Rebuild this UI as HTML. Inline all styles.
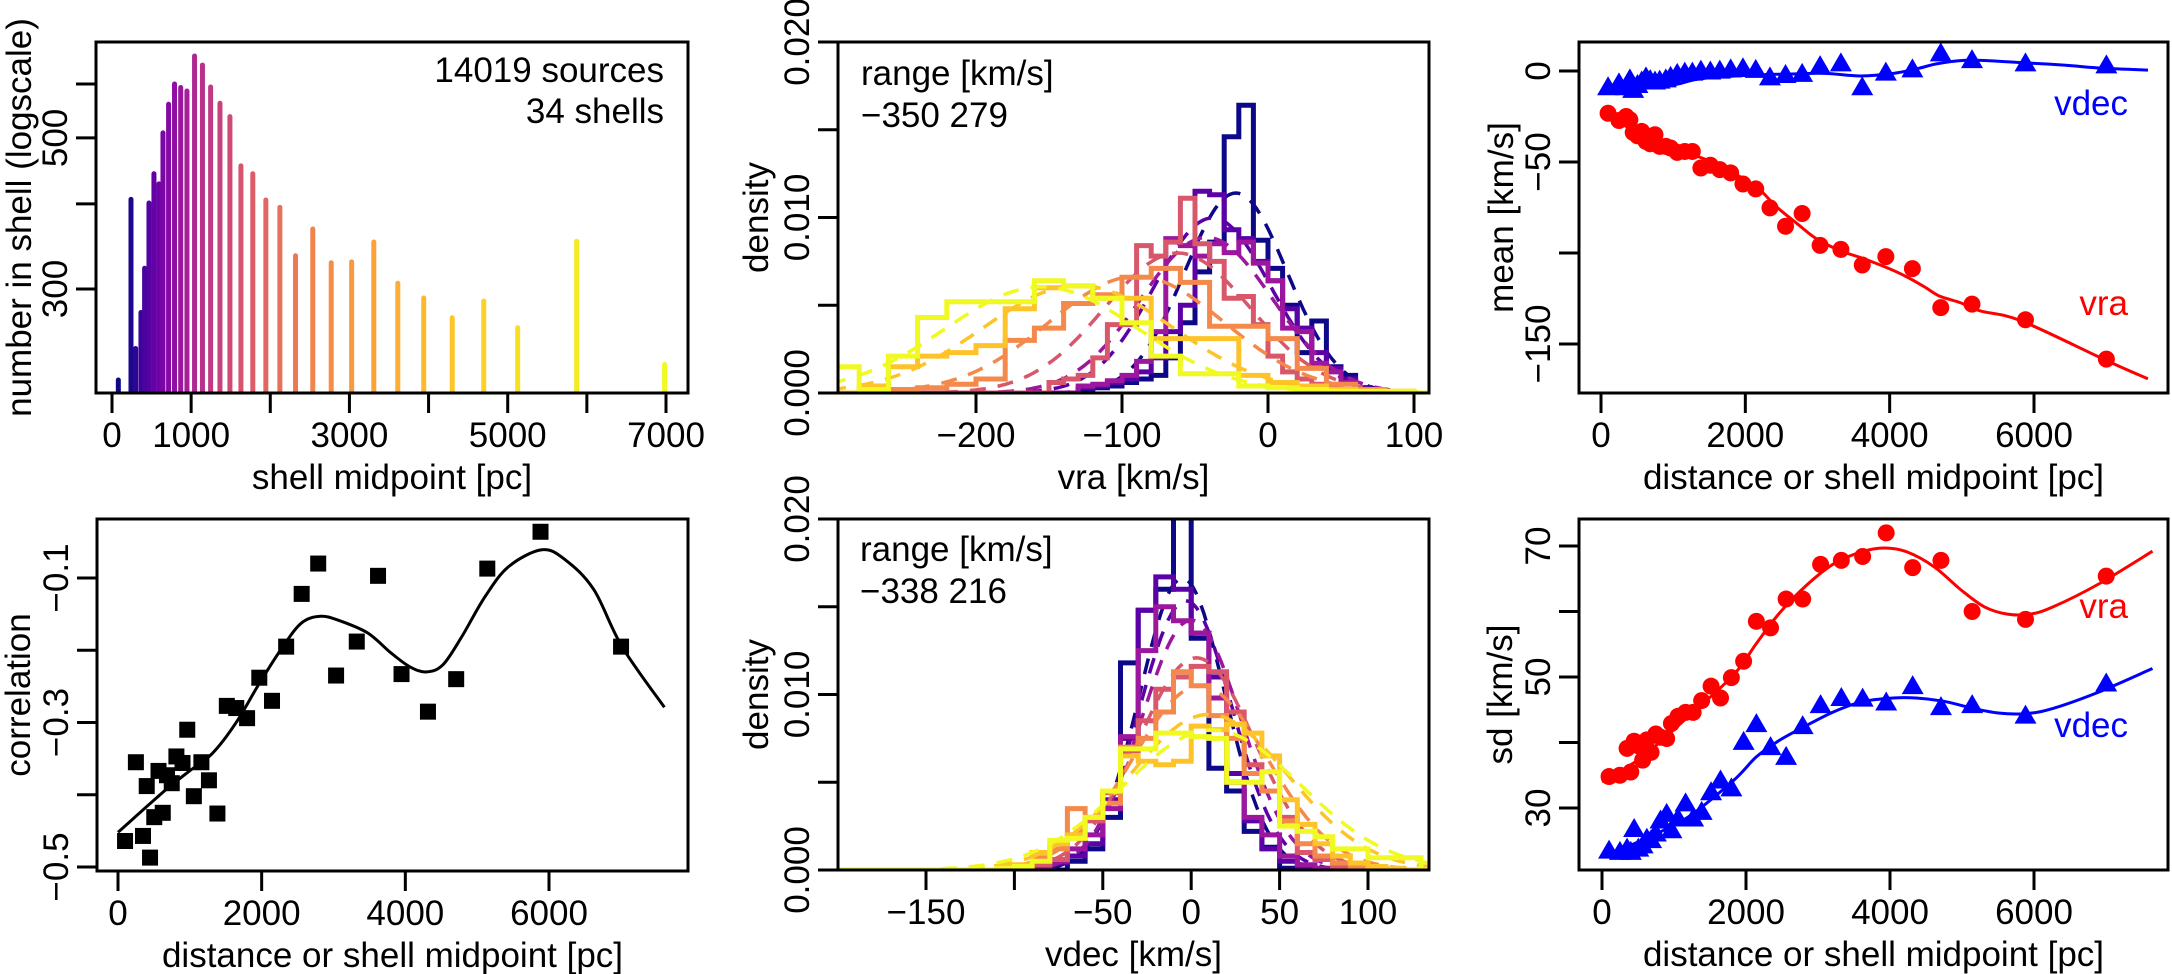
<!DOCTYPE html>
<html><head><meta charset="utf-8"><title>Shell velocity statistics</title>
<style>
html,body{margin:0;padding:0;background:#fff;}
svg{display:block;font-family:"Liberation Sans",Arial,sans-serif;}
</style></head>
<body>
<svg id="chart" xmlns="http://www.w3.org/2000/svg" width="2172" height="974" viewBox="0 0 2172 974">
<rect x="0" y="0" width="2172" height="974" fill="#fff"/>
</svg>
<script>
// ---------- data ----------
const histShellMid = [80,240,299,366,412,467,530,593,644,715,790,868,947,1043,1143,1246,1364,1490,1629,1779,1944,2121,2319,2537,2770,3028,3308,3611,3939,4299,4697,5126,5871,6982];
const histCounts = [222,409,247,279,324,404,446,431,512,564,604,597,590,664,644,598,566,541,458,446,408,398,338,370,330,331,354,308,293,274,290,265,355,234];

const shellMid = [98,249,348,400,446,505,564,623,682,748,813,898,964,1056,1161,1266,1384,1515,1646,1797,1967,2144,2341,2557,2787,3036,3324,3620,3947,4315,4708,5141,5882,7003];
const meanVra = [-23.2,-27.2,-25.0,-26.8,-33.8,-35.6,-33.2,-38.7,-40.0,-35.0,-41.4,-41.4,-42.3,-44.7,-44.2,-44.2,-53.3,-51.8,-54.2,-56.0,-62.1,-64.8,-75.2,-85.3,-78.3,-95.8,-98.0,-106.6,-102.0,-108.6,-130.0,-128.1,-136.7,-158.3];
const meanVdec = [-8.9,-6.8,-8.9,-4.6,-10.4,-7.7,-5.8,-3.5,-5.0,-5.8,-5.3,-4.6,-3.2,-1.6,-0.9,-0.9,0.2,-0.3,0.2,0.9,1.5,0.6,-3.5,-2.2,-1.6,2.7,4.2,-8.9,-0.9,0.9,9.7,6.0,4.2,3.1];
const fitMeanVraX = [0,431,1000,1567,2136,2419,2703,2986,3327,3668,4120,4461,4688,4972,5256,5824,6961,7578];
const fitMeanVraY = [-21.4,-32.3,-42.3,-50.5,-63.3,-74.2,-83.4,-92.2,-98.9,-103.5,-110.8,-118.1,-123.6,-127.2,-131.8,-137.3,-158.3,-169.2];
const fitMeanVdecX = [0,435,1001,1285,1569,2136,2704,3100,3554,3838,4120,4404,4688,5114,5824,6390,6957,7580];
const fitMeanVdecY = [-12.2,-10.0,-7.7,-4.9,-3.5,-2.2,-1.6,-1.3,-2.7,-2.2,-0.9,1.5,4.2,6.0,4.6,3.3,1.5,0.5];

const corr = [-0.464,-0.355,-0.457,-0.388,-0.487,-0.431,-0.367,-0.425,-0.373,-0.384,-0.347,-0.356,-0.310,-0.402,-0.355,-0.380,-0.426,-0.277,-0.280,-0.294,-0.238,-0.270,-0.195,-0.122,-0.080,-0.235,-0.188,-0.097,-0.233,-0.285,-0.240,-0.087,-0.036,-0.195];
const fitCorrX = [0,656,984,1311,1639,1967,2295,2557,2820,3082,3475,3803,4065,4295,4524,4787,5114,5442,5901,6229,6623,7016,7606];
const fitCorrY = [-0.452,-0.394,-0.368,-0.343,-0.301,-0.246,-0.195,-0.162,-0.153,-0.159,-0.176,-0.204,-0.223,-0.230,-0.220,-0.181,-0.125,-0.084,-0.061,-0.075,-0.116,-0.195,-0.279];

const sdVra = [34.8,35.0,39.1,35.5,40.2,39.5,37.3,40.4,38.5,41.3,40.8,40.6,42.9,44.0,44.6,44.6,46.4,48.6,46.8,49.9,52.4,58.5,57.5,61.9,61.9,67.2,67.8,68.4,72.0,66.7,67.8,60.0,58.8,65.4];
const sdVdec = [23.5,23.3,23.8,23.3,26.8,23.8,24.3,25.3,25.1,26.1,28.1,29.1,26.6,28.4,30.7,28.4,29.4,32.4,34.2,33.0,40.1,42.8,39.3,37.8,42.5,45.7,46.8,46.7,46.1,48.6,45.4,45.7,44.1,49.0];
const fitSdVraX = [0,558,1192,1826,2143,2460,2840,3221,3601,3918,4235,4616,4996,5313,5630,5947,6264,6898,7646];
const fitSdVraY = [34.0,37.8,43.9,50.3,55.1,59.7,64.0,67.3,69.1,69.7,69.1,66.8,63.2,60.7,59.6,59.6,60.7,64.2,69.2];
const fitSdVdecX = [0,558,1192,1826,2143,2460,2840,3221,3601,4045,4362,4743,5123,5503,5884,6264,6898,7646];
const fitSdVdecY = [22.5,25.1,28.6,34.2,37.8,40.3,42.6,44.7,46.2,46.8,46.8,46.3,45.3,44.5,44.4,45.2,47.7,51.3];

// vra histograms (selected shells)
const vraHistStart = [-130,-130,-130,-150,-260,-280,-300];
const vraHistWidth = [10,10,10,10,20,20,20];
const vraHistNavy   = [0.0002,0.0003,0.0004,0.0006,0.0008,0.0010,0.0020,0.0040,0.0069,0.0086,0.0146,0.0164,0.0087,0.0071,0.0050,0.0023,0.0041,0.0015,0.0010,0.0003];
const vraHistIndigo = [0.0003,0.0004,0.0006,0.0008,0.0012,0.0020,0.0035,0.0050,0.0115,0.0113,0.0093,0.0088,0.0075,0.0064,0.0048,0.0037,0.0023,0.0014,0.0008,0.0003];
const vraHistPurple = [0.0004,0.0005,0.0007,0.0010,0.0018,0.0035,0.0088,0.0084,0.0078,0.0085,0.0080,0.0086,0.0074,0.0064,0.0037,0.0035,0.0017,0.0012,0.0006,0.0002];
const vraHistPink   = [0.0006,0.0008,0.0010,0.0020,0.0039,0.0039,0.0084,0.0078,0.0086,0.0111,0.0085,0.0075,0.0054,0.0055,0.0039,0.0021,0.0012,0.0008,0.0005,0.0003,0.0002];
const vraHistOrange = [0.0002,0.0003,0.0005,0.0008,0.0030,0.0037,0.0051,0.0056,0.0066,0.0071,0.0063,0.0038,0.0038,0.0031,0.0014,0.0005,0.0002,0.0001];
const vraHistGold   = [0.0004,0.0015,0.0021,0.0023,0.0027,0.0048,0.0060,0.0061,0.0054,0.0054,0.0031,0.0031,0.0031,0.0010,0.0006,0.0004,0.0002,0.0001];
const vraHistYellow = [0.0015,0.0002,0.0021,0.0043,0.0052,0.0052,0.0052,0.0064,0.0061,0.0054,0.0040,0.0021,0.0011,0.0011,0.0004,0.0003,0.0002,0.0001,0.0001,0.0001];
const vraFitMean = [-22,-38,-42,-62,-90,-130,-155];
const vraFitSd = [35,40,45,50,60,65,66];

// vdec histograms (10 km/s bins from -110)
const vdecHistStart = -110;
const vdecHistWidth = 10;
const vdecHistNavy   = [0,0,0,0,0.0005,0.0012,0.0030,0.0118,0.0148,0.0160,0.0220,0.0132,0.0058,0.0045,0.0022,0.0013,0.0001,0,0,0,0,0,0,0];
const vdecHistIndigo = [0,0,0.0002,0.0004,0.0008,0.0015,0.0040,0.0075,0.0148,0.0167,0.0160,0.0135,0.0110,0.0055,0.0028,0.0012,0.0005,0.0002,0,0,0,0,0,0];
const vdecHistPurple = [0,0,0.0002,0.0005,0.0012,0.0020,0.0035,0.0076,0.0125,0.0150,0.0142,0.0135,0.0098,0.0050,0.0030,0.0020,0.0008,0.0003,0.0001,0,0,0,0,0];
const vdecHistPink   = [0,0,0.0003,0.0006,0.0020,0.0028,0.0044,0.0068,0.0085,0.0103,0.0110,0.0116,0.0113,0.0090,0.0060,0.0045,0.0030,0.0010,0.0006,0.0002,0.0001,0,0,0];
const vdecHistOrange = [0.0001,0.0002,0.0007,0.0012,0.0035,0.0030,0.0038,0.0070,0.0075,0.0090,0.0113,0.0105,0.0088,0.0075,0.0055,0.0045,0.0028,0.0015,0.0008,0.0004,0.0002,0.0001,0,0];
const vdecHistGold   = [0.0002,0.0003,0.0010,0.0015,0.0020,0.0030,0.0045,0.0065,0.0062,0.0060,0.0062,0.0082,0.0080,0.0083,0.0078,0.0065,0.0040,0.0026,0.0015,0.0008,0.0004,0.0002,0.0001,0];
const vdecHistYellow = [0.0001,0.0002,0.0005,0.0017,0.0018,0.0030,0.0045,0.0069,0.0069,0.0078,0.0078,0.0076,0.0075,0.0050,0.0050,0.0056,0.0025,0.0022,0.0019,0.0012,0.0012,0.0007,0.0007,0.0007];
const vdecFitMean = [-5,-3,0,3,5,10,12];
const vdecFitSd = [24,26,28,33,38,45,50];

const seriesColors = ['#0d0887','#5c01a6','#9c179e','#d8576b','#f3894b','#fdc328','#f0f921'];
const seriesNames = ['navy','indigo','purple','pink','orange','gold','yellow'];

// ---------- helpers ----------
const NS = 'http://www.w3.org/2000/svg';
const svg = document.getElementById('chart');
function el(tag, attrs, parent){
  const e = document.createElementNS(NS, tag);
  for (const k in attrs) e.setAttribute(k, attrs[k]);
  (parent || svg).appendChild(e);
  return e;
}
function lin(d0,p0,d1,p1){ return v => p0 + (v-d0)*(p1-p0)/(d1-d0); }
const FS = 35;
function smoothPath(xs, ys){
  let d = 'M' + xs[0].toFixed(1) + ',' + ys[0].toFixed(1);
  for (let i=0;i<xs.length-1;i++){
    const x0 = xs[Math.max(i-1,0)], y0 = ys[Math.max(i-1,0)];
    const x1 = xs[i], y1 = ys[i], x2 = xs[i+1], y2 = ys[i+1];
    const x3 = xs[Math.min(i+2,xs.length-1)], y3 = ys[Math.min(i+2,xs.length-1)];
    const c1x = x1 + (x2-x0)/6, c1y = y1 + (y2-y0)/6;
    const c2x = x2 - (x3-x1)/6, c2y = y2 - (y3-y1)/6;
    d += ' C' + c1x.toFixed(1)+','+c1y.toFixed(1)+' '+c2x.toFixed(1)+','+c2y.toFixed(1)+' '+x2.toFixed(1)+','+y2.toFixed(1);
  }
  return d;
}
const plasmaStops = ['#0d0887','#41049d','#6a00a8','#8f0da4','#b12a90','#cc4778','#e16462','#f2844b','#fca636','#fcce25','#f0f921'];
function plasma(t){
  const n = plasmaStops.length-1, f = Math.min(Math.max(t,0),1)*n, i = Math.min(Math.floor(f), n-1), r = f-i;
  const a = plasmaStops[i], b = plasmaStops[i+1];
  const c = [1,3,5].map(k => Math.round(parseInt(a.substr(k,2),16)*(1-r) + parseInt(b.substr(k,2),16)*r));
  return 'rgb(' + c.join(',') + ')';
}

function panel(id, L, R, T, B){
  const g = el('g', {});
  
  
  const cp = el('clipPath', {id: 'clip-' + id}, g);
  el('rect', {x:L, y:T, width:R-L, height:B-T}, cp);
  const plot = el('g', {'clip-path':'url(#clip-' + id + ')'}, g);
  
  
  return {g, plot, L, R, T, B};
}
function box(p, id){
  const r = el('rect', {x:p.L, y:p.T, width:p.R-p.L, height:p.B-p.T, fill:'none', stroke:'#000', 'stroke-width':3}, p.g);
  
  
}
function xAxis(p, id, sx, ticks, labels, title){
  const ax = el('g', {}, p.g);
  
  
  ticks.forEach((t,i) => {
    const x = sx(t);
    const tk = el('line', {x1:x, x2:x, y1:p.B, y2:p.B+20, stroke:'#000', 'stroke-width':3}, ax);
    
    
    if (labels[i] !== '') {
      const tx = el('text', {x:x, y:p.B+54, 'text-anchor':'middle', 'font-size':FS}, ax);
      tx.textContent = labels[i];
      
      
    }
  });
  const tt = el('text', {x:(p.L+p.R)/2, y:p.B+96, 'text-anchor':'middle', 'font-size':FS}, ax);
  tt.textContent = title;
  
  
}
function yAxis(p, id, sy, ticks, labels, title, titleOff){
  const ax = el('g', {}, p.g);
  
  
  ticks.forEach((t,i) => {
    const y = sy(t);
    const tk = el('line', {x1:p.L-20, x2:p.L, y1:y, y2:y, stroke:'#000', 'stroke-width':3}, ax);
    
    
    if (labels[i] !== '') {
      const lx = p.L - 29;
      const tx = el('text', {x:lx, y:y, 'text-anchor':'middle', 'font-size':FS, transform:'rotate(-90 ' + lx + ' ' + y + ')'}, ax);
      tx.textContent = labels[i];
      
      
    }
  });
  const tx0 = p.L - titleOff, ty0 = (p.T+p.B)/2;
  const tt = el('text', {x:tx0, y:ty0, 'text-anchor':'middle', 'font-size':FS, transform:'rotate(-90 ' + tx0 + ' ' + ty0 + ')'}, ax);
  tt.textContent = title;
  
  
}
function label(p, name, x, y, txt, anchor, color){
  const t = el('text', {x:x, y:y, 'text-anchor':anchor, 'font-size':FS, fill:color||'#000'}, p.g);
  t.textContent = txt;
  
  
}
function curve(p, name, xs, ys, sx, sy, color, dash){
  const a = {d:smoothPath(xs.map(sx), ys.map(sy)), fill:'none', stroke:color, 'stroke-width':3};
  if (dash) a['stroke-dasharray'] = dash;
  const c = el('path', a, p.plot);
  
  
}
function circles(p, name, xs, ys, sx, sy, color){
  xs.forEach((v,i) => {
    const c = el('ellipse', {cx:sx(v), cy:sy(ys[i]), rx:8.5, ry:8.5, fill:color}, p.plot);
    
    
  });
}
function triangles(p, name, xs, ys, sx, sy, color){
  xs.forEach((v,i) => {
    const x = sx(v), y = sy(ys[i]);
    const t = el('polygon', {points:(x-11)+','+(y+8)+' '+(x+11)+','+(y+8)+' '+x+','+(y-11), fill:color}, p.plot);
    
    
  });
}
function stepHist(p, name, start, width, vals, sx, sy, xmin, xmax, color){
  let d = 'M' + sx(xmin) + ',' + sy(0) + ' H' + sx(start);
  vals.forEach((v,i) => { d += ' V' + sy(v).toFixed(1) + ' H' + sx(start + width*(i+1)).toFixed(1); });
  d += ' V' + sy(0) + ' H' + sx(xmax);
  const h = el('path', {d:d, fill:'none', stroke:color, 'stroke-width':5, 'stroke-linejoin':'miter'}, p.plot);
  
  
}
function normalCurve(p, name, mu, sd, sx, sy, xmin, xmax, color){
  const xs = [], ys = [];
  for (let v = xmin; v <= xmax; v += 2){ xs.push(sx(v)); ys.push(sy(Math.exp(-0.5*((v-mu)/sd)**2)/(sd*Math.sqrt(2*Math.PI)))); }
  let d = 'M' + xs[0].toFixed(1) + ',' + ys[0].toFixed(1);
  for (let i=1;i<xs.length;i++) d += ' L' + xs[i].toFixed(1) + ',' + ys[i].toFixed(1);
  const c = el('path', {d:d, fill:'none', stroke:color, 'stroke-width':3.5, 'stroke-dasharray':'16 12'}, p.plot);
  
  
}

// ---------- panel 1: counts per shell ----------
(function(){
  const p = panel('shell-count', 96, 688, 42, 393);
  const sx = lin(0,112,7000,666);
  const sy = v => 289 + (Math.log(v) - Math.log(300)) * (84-289) / Math.log(2);
  histShellMid.forEach((m,i) => {
    const b = el('line', {x1:sx(m), x2:sx(m), y1:p.B+6, y2:sy(histCounts[i])+2, stroke:plasma(i/(histShellMid.length-1)), 'stroke-width':5, 'stroke-linecap':'round'}, p.plot);
    
    
  });
  box(p, 'shell-count');
  xAxis(p, 'shell-count', sx, [0,1000,2000,3000,4000,5000,6000,7000], ['0','1000','','3000','','5000','','7000'], 'shell midpoint [pc]');
  yAxis(p, 'shell-count', sy, [300,400,500,600], ['300','','500',''], 'number in shell (logscale)', 65);
  label(p, 'sources-annotation', 664, 82, '14019 sources', 'end');
  label(p, 'shells-annotation', 664, 123, '34 shells', 'end');
})();

// ---------- panel 2: vra histograms ----------
(function(){
  const p = panel('vra-hist', 838, 1429, 42, 393);
  const sx = lin(-200,976,100,1414);
  const sy = lin(0,393,0.02,42);
  const hists = [vraHistNavy, vraHistIndigo, vraHistPurple, vraHistPink, vraHistOrange, vraHistGold, vraHistYellow];
  hists.forEach((h,i) => {
    stepHist(p, 'vra-hist-' + seriesNames[i], vraHistStart[i], vraHistWidth[i], h, sx, sy, -300, 115, seriesColors[i]);
    normalCurve(p, 'vra-fit-' + seriesNames[i], vraFitMean[i], vraFitSd[i], sx, sy, -300, 115, seriesColors[i]);
  });
  box(p, 'vra-hist');
  xAxis(p, 'vra-hist', sx, [-200,-100,0,100], ['\u2212200','\u2212100','0','100'], 'vra [km/s]');
  yAxis(p, 'vra-hist', sy, [0,0.005,0.010,0.015,0.020], ['0.000','','0.010','','0.020'], 'density', 70);
  label(p, 'vra-range-title', 861, 85, 'range [km/s]', 'start');
  label(p, 'vra-range-values', 861, 127, '\u2212350 279', 'start');
})();

// ---------- panel 3: means ----------
(function(){
  const p = panel('mean', 1579, 2168, 42, 393);
  const sx = lin(0,1601,6000,2034);
  const sy = lin(0,71,-150,344);
  curve(p, 'mean-vdec-fit', fitMeanVdecX, fitMeanVdecY, sx, sy, '#0000ff');
  curve(p, 'mean-vra-fit', fitMeanVraX, fitMeanVraY, sx, sy, '#ff0000');
  triangles(p, 'mean-vdec-point', shellMid, meanVdec, sx, sy, '#0000ff');
  circles(p, 'mean-vra-point', shellMid, meanVra, sx, sy, '#ff0000');
  box(p, 'mean');
  xAxis(p, 'mean', sx, [0,2000,4000,6000], ['0','2000','4000','6000'], 'distance or shell midpoint [pc]');
  yAxis(p, 'mean', sy, [0,-50,-100,-150], ['0','\u221250','','\u2212150'], 'mean [km/s]', 66);
  label(p, 'mean-vdec-label', 2128, 115, 'vdec', 'end', '#0000ff');
  label(p, 'mean-vra-label', 2128, 315, 'vra', 'end', '#ff0000');
})();

// ---------- panel 4: correlation ----------
(function(){
  const p = panel('correlation', 97, 688, 519, 871);
  const sx = lin(0,118,6000,549);
  const sy = lin(-0.1,578,-0.5,867);
  curve(p, 'correlation-fit', fitCorrX, fitCorrY, sx, sy, '#000');
  shellMid.forEach((m,i) => {
    const s = el('rect', {x:sx(m)-8, y:sy(corr[i])-8, width:16, height:16, fill:'#000'}, p.plot);
    
    
  });
  box(p, 'correlation');
  xAxis(p, 'correlation', sx, [0,2000,4000,6000], ['0','2000','4000','6000'], 'distance or shell midpoint [pc]');
  yAxis(p, 'correlation', sy, [-0.1,-0.2,-0.3,-0.4,-0.5], ['\u22120.1','','\u22120.3','','\u22120.5'], 'correlation', 67);
})();

// ---------- panel 5: vdec histograms ----------
(function(){
  const p = panel('vdec-hist', 838, 1429, 519, 870);
  const sx = lin(-150,926,100,1368);
  const sy = lin(0,870,0.02,519);
  const hists = [vdecHistNavy, vdecHistIndigo, vdecHistPurple, vdecHistPink, vdecHistOrange, vdecHistGold, vdecHistYellow];
  hists.forEach((h,i) => {
    stepHist(p, 'vdec-hist-' + seriesNames[i], vdecHistStart, vdecHistWidth, h, sx, sy, -205, 140, seriesColors[i]);
    normalCurve(p, 'vdec-fit-' + seriesNames[i], vdecFitMean[i], vdecFitSd[i], sx, sy, -205, 140, seriesColors[i]);
  });
  box(p, 'vdec-hist');
  xAxis(p, 'vdec-hist', sx, [-150,-100,-50,0,50,100], ['\u2212150','','\u221250','0','50','100'], 'vdec [km/s]');
  yAxis(p, 'vdec-hist', sy, [0,0.005,0.010,0.015,0.020], ['0.000','','0.010','','0.020'], 'density', 70);
  label(p, 'vdec-range-title', 860, 561, 'range [km/s]', 'start');
  label(p, 'vdec-range-values', 860, 603, '\u2212338 216', 'start');
})();

// ---------- panel 6: standard deviations ----------
(function(){
  const p = panel('sd', 1579, 2168, 519, 870);
  const sx = lin(0,1602,6000,2034);
  const sy = lin(30,808,70,546);
  curve(p, 'sd-vra-fit', fitSdVraX, fitSdVraY, sx, sy, '#ff0000');
  curve(p, 'sd-vdec-fit', fitSdVdecX, fitSdVdecY, sx, sy, '#0000ff');
  circles(p, 'sd-vra-point', shellMid, sdVra, sx, sy, '#ff0000');
  triangles(p, 'sd-vdec-point', shellMid, sdVdec, sx, sy, '#0000ff');
  box(p, 'sd');
  xAxis(p, 'sd', sx, [0,2000,4000,6000], ['0','2000','4000','6000'], 'distance or shell midpoint [pc]');
  yAxis(p, 'sd', sy, [30,40,50,60,70], ['30','','50','','70'], 'sd [km/s]', 67);
  label(p, 'sd-vra-label', 2128, 618, 'vra', 'end', '#ff0000');
  label(p, 'sd-vdec-label', 2128, 737, 'vdec', 'end', '#0000ff');
})();
</script>
</body></html>
